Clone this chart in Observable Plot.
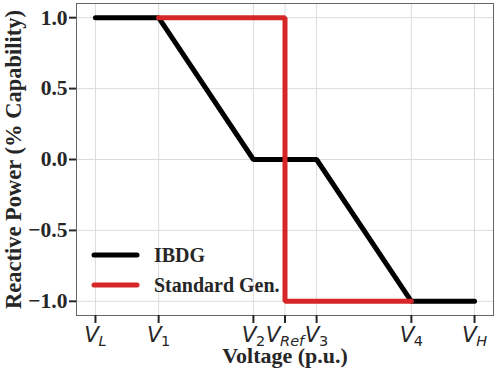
<!DOCTYPE html>
<html>
<head>
<meta charset="utf-8">
<script src="https://cdn.jsdelivr.net/npm/d3@7"></script>
<script src="https://cdn.jsdelivr.net/npm/@observablehq/plot@0.6"></script>
<style>
  html, body { margin: 0; padding: 0; background: #fff; }
</style>
</head>
<body>
<div id="chart"></div>
<script>
// Tick labels (main symbol, subscript) and their positions along the voltage axis
const xTickMain = ["V", "V", "V", "V", "V", "V", "V"];
const xTickSub = ["L", "1", "2", "Ref", "3", "4", "H"];
const xTickPos = [0, 1, 2.5, 3, 3.5, 5, 6];
const yTicks = [-1, -0.5, 0, 0.5, 1];

// Series
const ibdgX = [0, 1, 2.5, 3.5, 5, 6];
const ibdgY = [1, 1, 0, 0, -1, -1];
const stdX = [1, 3, 3, 5];
const stdY = [1, 1, -1, -1];

const seriesNames = ["IBDG", "Standard Gen."];
const seriesColors = ["#000000", "#d62728"];

const ibdg = ibdgX.map((x, i) => ({x, y: ibdgY[i]}));
const std = stdX.map((x, i) => ({x, y: stdY[i]}));

const serif = "'Liberation Serif', 'Times New Roman', serif";
const textColor = "#262626";

const chart = Plot.plot({
  width: 498,
  height: 372,
  marginTop: 3,
  marginRight: 5,
  marginBottom: 57,
  marginLeft: 76,
  style: {background: "#fff", color: textColor},
  x: {domain: [-0.3, 6.3]},
  y: {domain: [-1.1, 1.1]},
  marks: [
    Plot.gridX(xTickPos, {stroke: "#dcdcdc", strokeOpacity: 1, strokeWidth: 1}),
    Plot.gridY(yTicks, {stroke: "#dcdcdc", strokeOpacity: 1, strokeWidth: 1}),
    Plot.frame({stroke: "#666", strokeWidth: 1}),
    Plot.axisY({
      ticks: yTicks,
      tickSize: 7,
      tickPadding: 2,
      strokeWidth: 2,
      tickFormat: d3.format(".1f"),
      fontSize: 21.5,
      fontWeight: "bold",
      fontFamily: serif,
      fill: textColor,
      stroke: textColor,
      label: null
    }),
    Plot.axisX({
      ticks: xTickPos,
      tickSize: 8,
      tickPadding: 3,
      strokeWidth: 2,
      stroke: textColor,
      fill: textColor,
      tickFormat: (d) => String(xTickPos.indexOf(d)),
      fontSize: 21.5,
      fontFamily: "'DejaVu Sans', sans-serif",
      label: null
    }),
    Plot.line(ibdg, {x: "x", y: "y", stroke: seriesColors[0], strokeWidth: 5, strokeLinecap: "round", strokeLinejoin: "miter"}),
    Plot.line(std, {x: "x", y: "y", stroke: seriesColors[1], strokeWidth: 5, strokeLinecap: "round", strokeLinejoin: "miter"}),
    Plot.text(["Voltage (p.u.)"], {frameAnchor: "bottom", textAnchor: "middle", lineAnchor: "middle", dy: 40, fontSize: 22, fontWeight: "bold", fontFamily: serif, fill: textColor, text: (d) => d}),
    Plot.text(["Reactive Power (% Capability)"], {frameAnchor: "left", textAnchor: "middle", lineAnchor: "middle", dx: -63, rotate: -90, fontSize: 22.5, fontWeight: "bold", fontFamily: serif, fill: textColor, text: (d) => d})
  ]
});

const svg = d3.select(chart);

// Rich tick labels: italic V with subscript
svg.selectAll('g[aria-label="x-axis tick label"] text').each(function() {
  const t = d3.select(this);
  const i = +t.text();
  t.text(null);
  t.append("tspan").attr("font-style", "italic").text(xTickMain[i]);
  const sub = xTickSub[i];
  const isDigit = /^[0-9]+$/.test(sub);
  t.append("tspan")
    .attr("font-style", isDigit ? "normal" : "italic")
    .attr("font-size", "14.5px")
    .attr("dx", "-0.5")
    .attr("dy", "0.3em")
    .text(sub);
});

// Legend inside plot, lower left
const leg = svg.append("g").attr("aria-label", "legend");
seriesNames.forEach((name, i) => {
  const y = 255 + i * 30;
  leg.append("line")
    .attr("x1", 94).attr("x2", 137).attr("y1", y).attr("y2", y)
    .attr("stroke", seriesColors[i]).attr("stroke-width", 5).attr("stroke-linecap", "round");
  leg.append("text")
    .attr("x", 154).attr("y", y).attr("dy", "0.35em")
    .attr("text-anchor", "start")
    .attr("font-family", serif).attr("font-weight", "bold").attr("font-size", 20)
    .attr("fill", textColor)
    .text(name);
});

document.getElementById("chart").appendChild(chart);
</script>
</body>
</html>
